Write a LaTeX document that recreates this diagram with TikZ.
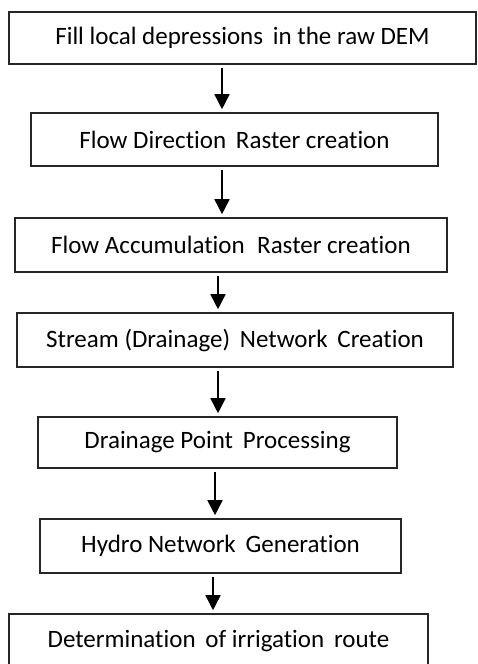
\documentclass[tikz,border=0pt]{standalone}
\usepackage{fontspec}
\setmainfont[Ligatures={NoCommon}]{Carlito}
\usetikzlibrary{arrows.meta}
\begin{document}
\begin{tikzpicture}[x=1pt,y=-1pt,
  box/.style={draw=black!85, line width=1.6pt, inner sep=0pt, anchor=center,
    font=\fontsize{25}{30}\selectfont},
  arr/.style={draw=black, line width=1.6pt, -{Triangle[length=15pt,width=15pt]},
    shorten <=3pt, shorten >=3pt}]
\useasboundingbox (0,0) rectangle (477,664);
\node[box, minimum width=467pt, minimum height=52pt] (n1) at (242.5,38) {Fill local depressions\, in the raw DEM};
\node[box, minimum width=407pt, minimum height=53pt] (n2) at (234.5,139.5) {Flow Direction\, Raster creation};
\node[box, minimum width=432pt, minimum height=54pt] (n3) at (231,245) {Flow Accumulation\enspace Raster creation};
\node[box, minimum width=436pt, minimum height=54pt] (n4) at (235,340) {Stream (Drainage)\, Network\, Creation};
\node[box, minimum width=359pt, minimum height=51pt] (n5) at (217.5,442.5) {Drainage Point\, Processing};
\node[box, minimum width=361pt, minimum height=54pt] (n6) at (220.5,546) {Hydro Network\, Generation};
\node[box, minimum width=419pt, minimum height=54pt] (n7) at (218.5,641) {Determination\, of irrigation\, route};
\draw[arr] (n1.south -| 222,0) -- (n2.north -| 222,0);
\draw[arr] (n2.south -| 222,0) -- (n3.north -| 222,0);
\draw[arr] (n3.south -| 218,0) -- (n4.north -| 218,0);
\draw[arr] (n4.south -| 218,0) -- (n5.north -| 218,0);
\draw[arr] (n5.south -| 215,0) -- (n6.north -| 215,0);
\draw[arr] (n6.south -| 213,0) -- (n7.north -| 213,0);
\end{tikzpicture}
\end{document}
